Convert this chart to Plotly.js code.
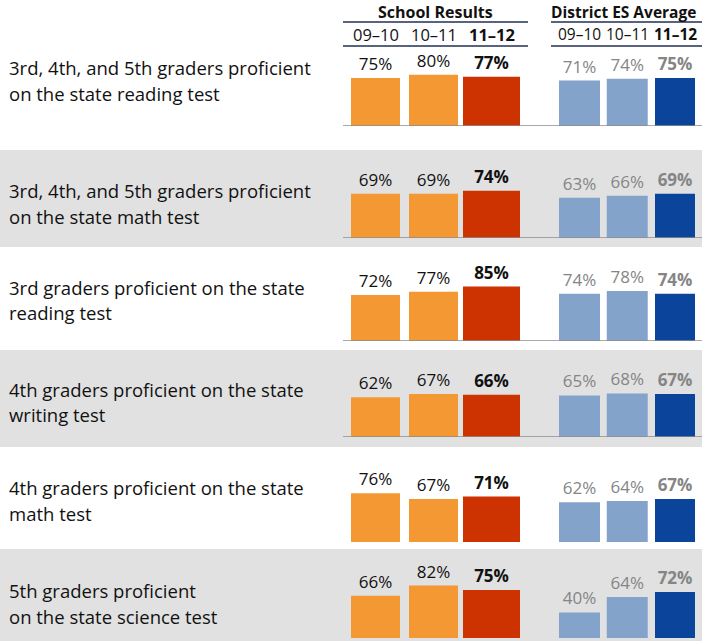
<!DOCTYPE html>
<html>
<head>
<meta charset="utf-8">
<script src="https://cdn.plot.ly/plotly-3.0.1.min.js"></script>
<style>html,body{margin:0;padding:0;background:#fff;}#chart{width:702px;height:641px;}</style>
</head>
<body>
<div id="chart"></div>
<script>
// ---- data ----
const rowLabels = [
  ["3rd, 4th, and 5th graders proficient", "on the state reading test"],
  ["3rd, 4th, and 5th graders proficient", "on the state math test"],
  ["3rd graders proficient on the state", "reading test"],
  ["4th graders proficient on the state", "writing test"],
  ["4th graders proficient on the state", "math test"],
  ["5th graders proficient", "on the state science test"]
];
const years = ["09–10", "10–11", "11–12"];
const school0910 = [75, 69, 72, 62, 76, 66];
const school1011 = [80, 69, 77, 67, 67, 82];
const school1112 = [77, 74, 85, 66, 71, 75];
const district0910 = [71, 63, 74, 65, 62, 40];
const district1011 = [74, 66, 78, 68, 64, 64];
const district1112 = [75, 69, 74, 67, 67, 72];

// ---- layout helpers ----
const W = 702, H = 641;
const FONT = "Open Sans, sans-serif";
const baselines = [126, 238, 341, 437, 542, 638];
const withLine = [true, true, true, true, false, false];
const labelY = [[67, 93], [190, 216], [287, 312], [389, 415], [487, 513], [590, 616]];
const bands = [[150, 247], [350, 447], [549, 641]];
const pxPerUnit = 0.64;
const fy = p => 1 - p / H;
const fx = p => p / W;

const schoolDom = [343, 528], distDom = [551, 702];
const schoolStep = 58, distStep = 47.75;
const schoolC0 = 375.5, distC0 = 579.5;

const traces = [];
const layout = {
  width: W, height: H,
  margin: {l: 0, r: 0, t: 0, b: 0},
  paper_bgcolor: "#ffffff",
  plot_bgcolor: "rgba(0,0,0,0)",
  showlegend: false,
  font: {family: FONT},
  shapes: [],
  annotations: []
};

const pct = v => v + "%";
for (let r = 0; r < 6; r++) {
  const iS = 2 * r + 1, iD = 2 * r + 2;
  const nm = i => (i === 1 ? "" : String(i));
  const yDom = [fy(baselines[r]), fy(baselines[r] - 100 * pxPerUnit)];

  traces.push({
    type: "bar",
    x: years,
    y: [school0910[r], school1011[r], school1112[r]],
    width: [49 / schoolStep, 49 / schoolStep, 57 / schoolStep],
    marker: {color: ["#F39833", "#F39833", "#CC3300"], line: {width: 0}},
    text: [pct(school0910[r]), pct(school1011[r]), "<b>" + pct(school1112[r]) + "</b>"],
    textposition: "outside",
    textfont: {color: "#111111", size: 17, family: FONT},
    constraintext: "none",
    cliponaxis: false,
    hoverinfo: "skip",
    xaxis: "x" + nm(iS), yaxis: "y" + nm(iS)
  });
  traces.push({
    type: "bar",
    x: years,
    y: [district0910[r], district1011[r], district1112[r]],
    width: [41 / distStep, 41 / distStep, 40 / distStep],
    marker: {color: ["#84A3CB", "#84A3CB", "#0B449B"], line: {width: 0}},
    text: [pct(district0910[r]), pct(district1011[r]), "<b>" + pct(district1112[r]) + "</b>"],
    textposition: "outside",
    textfont: {color: "#858585", size: 17, family: FONT},
    constraintext: "none",
    cliponaxis: false,
    hoverinfo: "skip",
    xaxis: "x" + nm(iD), yaxis: "y" + nm(iD)
  });

  const hidden = {showgrid: false, zeroline: false, showline: false, showticklabels: false, ticks: "", fixedrange: true};
  layout["xaxis" + nm(iS)] = Object.assign({}, hidden, {
    type: "category", domain: [fx(schoolDom[0]), fx(schoolDom[1])],
    range: [-(schoolC0 - schoolDom[0]) / schoolStep, (schoolDom[1] - schoolC0) / schoolStep],
    anchor: "y" + nm(iS)
  });
  layout["yaxis" + nm(iS)] = Object.assign({}, hidden, {domain: yDom, range: [0, 100], anchor: "x" + nm(iS)});
  layout["xaxis" + nm(iD)] = Object.assign({}, hidden, {
    type: "category", domain: [fx(distDom[0]), fx(distDom[1])],
    range: [-(distC0 - distDom[0]) / distStep, (distDom[1] - distC0) / distStep],
    anchor: "y" + nm(iD)
  });
  layout["yaxis" + nm(iD)] = Object.assign({}, hidden, {domain: yDom, range: [0, 100], anchor: "x" + nm(iD)});

  if (withLine[r]) {
    layout.shapes.push({
      type: "line", xref: "paper", yref: "y" + nm(iS),
      x0: fx(343), x1: 1, y0: 0, y1: 0,
      line: {color: "#8C8C8C", width: 1.5}
    });
  }
  // row labels
  for (let k = 0; k < 2; k++) {
    layout.annotations.push({
      xref: "paper", yref: "paper", x: fx(7), y: fy(labelY[r][k]),
      xanchor: "left", yanchor: "middle", showarrow: false,
      text: rowLabels[r][k],
      font: {family: FONT, size: 18.5, color: "#111111"}
    });
  }
}

// gray bands
bands.forEach(b => layout.shapes.push({
  type: "rect", xref: "paper", yref: "paper", layer: "below",
  x0: 0, x1: 1, y0: fy(b[1]), y1: fy(b[0]),
  fillcolor: "#E1E1E1", line: {width: 0}
}));

// header lines
[[343, 528], [551, 702]].forEach(seg => {
  [22, 46].forEach(py => layout.shapes.push({
    type: "line", xref: "paper", yref: "paper",
    x0: fx(seg[0]), x1: fx(seg[1]), y0: fy(py), y1: fy(py),
    line: {color: "#1F2F55", width: 1.5}
  }));
});

// header titles
layout.annotations.push({
  xref: "paper", yref: "paper", x: fx(435), y: fy(12), xanchor: "center", yanchor: "middle",
  showarrow: false, text: "<b>School Results</b>", font: {family: FONT, size: 16, color: "#111111"}
});
layout.annotations.push({
  xref: "paper", yref: "paper", x: fx(623), y: fy(12), xanchor: "center", yanchor: "middle",
  showarrow: false, text: "<b>District ES Average</b>", font: {family: FONT, size: 15.5, color: "#111111"}
});
// year sub-headers
years.forEach((yr, i) => {
  const txt = i === 2 ? "<b>" + yr + "</b>" : yr;
  [["x", 16.5], ["x2", 15.5]].forEach(([ax, sz]) => layout.annotations.push({
    xref: ax, yref: "paper", x: yr, y: fy(34), xanchor: "center", yanchor: "middle",
    showarrow: false, text: txt, font: {family: FONT, size: sz, color: "#111111"}
  }));
});

Plotly.newPlot("chart", traces, layout, {displayModeBar: false, staticPlot: true});
</script>
</body>
</html>
